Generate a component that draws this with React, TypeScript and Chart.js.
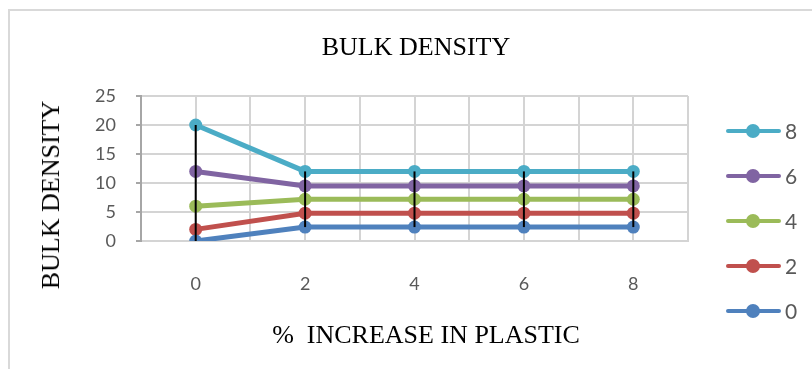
import React, { useEffect, useRef } from "react";
import { Chart, registerables } from "chart.js";

Chart.register(...registerables);

// % increase in plastic (x positions)
const categories = [0, 2, 4, 6, 8];
const yTicks = [0, 5, 10, 15, 20, 25];

// Series values (stacked line chart)
const seriesLabels = ["0", "2", "4", "6", "8"];
const series0 = [0, 2.4, 2.4, 2.4, 2.4];
const series2 = [2, 2.4, 2.4, 2.4, 2.4];
const series4 = [4, 2.4, 2.4, 2.4, 2.4];
const series6 = [6, 2.3, 2.3, 2.3, 2.3];
const series8 = [8, 2.5, 2.5, 2.5, 2.5];
const seriesValues = [series0, series2, series4, series6, series8];
const seriesColors = ["#4f81bd", "#c0504d", "#9bbb59", "#8064a2", "#4bacc6"];

const SERIF = '"Liberation Serif", "Times New Roman", serif';
const SANS = 'Lato, "Open Sans", sans-serif';
const GRID = "#d4d4d4";
const AXIS = "#a6a6a6";

// Black high-low lines joining the lowest and highest point at each x
const hiLoLines = {
  id: "hiLoLines",
  afterDatasetsDraw(chart: any) {
    const metas = chart.data.datasets.map((_: any, i: number) => chart.getDatasetMeta(i));
    const ctx = chart.ctx;
    ctx.save();
    ctx.strokeStyle = "#000000";
    ctx.lineWidth = 2;
    categories.forEach((_, j) => {
      const ys = metas.map((m: any) => m.data[j].y);
      const x = metas[0].data[j].x;
      ctx.beginPath();
      ctx.moveTo(x, Math.min(...ys));
      ctx.lineTo(x, Math.max(...ys));
      ctx.stroke();
    });
    ctx.restore();
  },
};

function ChartCanvas() {
  const ref = useRef<HTMLCanvasElement | null>(null);
  useEffect(() => {
    if (!ref.current) return;
    const chart = new Chart(ref.current, {
      type: "line",
      data: {
        datasets: seriesValues.map((vals, i) => ({
          label: seriesLabels[i],
          data: categories.map((c, j) => ({ x: c, y: vals[j] })),
          borderColor: seriesColors[i],
          backgroundColor: seriesColors[i],
          borderWidth: 5,
          pointRadius: 6.5,
          pointHoverRadius: 6.5,
          pointBorderWidth: 0,
          fill: false,
          tension: 0,
        })),
      },
      options: {
        animation: false,
        responsive: false,
        maintainAspectRatio: false,
        layout: { padding: { left: 0, right: 124, top: 96, bottom: 0 } },
        plugins: { legend: { display: false }, title: { display: false }, tooltip: { enabled: false } },
        scales: {
          x: {
            type: "linear",
            min: -1,
            max: 9,
            afterFit: (s: any) => {
              s.height = 128;
            },
            ticks: {
              stepSize: 1,
              autoSkip: false,
              maxRotation: 0,
              padding: 32,
              color: "#595959",
              font: { family: SANS, size: 18 },
              callback: (v: any) => (categories.includes(Number(v)) ? String(v) : ""),
            },
            grid: { color: GRID, lineWidth: 2, drawTicks: false },
            border: { color: GRID, width: 2 },
          },
          y: {
            type: "linear",
            stacked: true,
            min: yTicks[0],
            max: yTicks[yTicks.length - 1],
            afterFit: (s: any) => {
              s.width = 141;
            },
            afterBuildTicks: (s: any) => {
              s.ticks = yTicks.map((v) => ({ value: v }));
            },
            ticks: {
              padding: 20,
              color: "#595959",
              font: { family: SANS, size: 18 },
            },
            grid: { color: GRID, lineWidth: 2, drawTicks: true, tickLength: 5, tickColor: AXIS },
            border: { color: AXIS, width: 2 },
          },
        },
      },
      plugins: [hiLoLines],
    });
    return () => chart.destroy();
  }, []);
  return <canvas ref={ref} width={812} height={369} style={{ position: "absolute", left: 0, top: 0, width: 812, height: 369 }} />;
}

function Legend() {
  const order = [4, 3, 2, 1, 0];
  const tops = [131, 176, 221, 266, 311];
  return (
    <>
      {order.map((si, k) => (
        <div key={si} style={{ position: "absolute", left: 726, top: tops[k] - 12, height: 24, width: 86 }}>
          <div style={{ position: "absolute", left: 0, top: 10, width: 55, height: 4, background: seriesColors[si], borderRadius: 2 }} />
          <div style={{ position: "absolute", left: 20, top: 5, width: 14, height: 14, borderRadius: 7, background: seriesColors[si] }} />
          <div style={{ position: "absolute", left: 59, top: 0, lineHeight: "24px", fontFamily: SANS, fontSize: 21, color: "#595959" }}>
            {seriesLabels[si]}
          </div>
        </div>
      ))}
    </>
  );
}

export default function App() {
  return (
    <div style={{ position: "fixed", left: 0, top: 0, width: 812, height: 369, overflow: "hidden", background: "#ffffff" }}>
      <div style={{ position: "absolute", left: 8, top: 9, width: 900, height: 420, border: "2.5px solid #d9d9d9", boxSizing: "border-box" }} />
      <ChartCanvas />
      <div style={{ position: "absolute", left: 416, top: 47, transform: "translate(-50%, -50%)", fontFamily: SERIF, fontSize: 26, color: "#000", whiteSpace: "nowrap" }}>
        BULK DENSITY
      </div>
      <div style={{ position: "absolute", left: 426, top: 335, transform: "translate(-50%, -50%)", fontFamily: SERIF, fontSize: 26, color: "#000", whiteSpace: "pre" }}>
        {"%  INCREASE IN PLASTIC"}
      </div>
      <div style={{ position: "absolute", left: 51, top: 195, transform: "translate(-50%, -50%) rotate(-90deg)", fontFamily: SERIF, fontSize: 26, color: "#000", whiteSpace: "nowrap" }}>
        BULK DENSITY
      </div>
      <Legend />
    </div>
  );
}
